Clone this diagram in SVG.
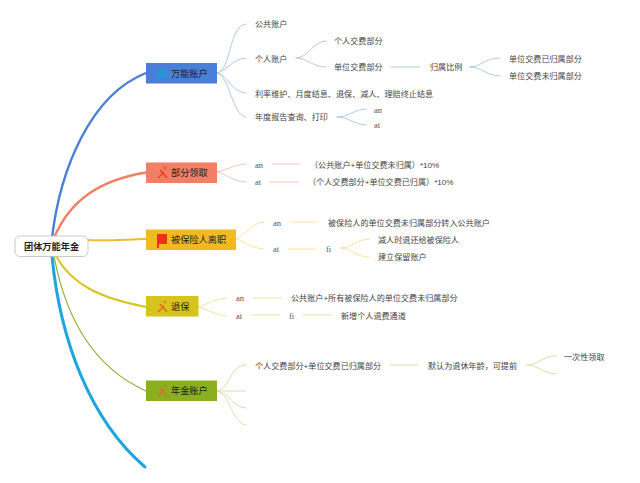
<svg xmlns="http://www.w3.org/2000/svg" width="640" height="483" viewBox="0 0 640 483">
<style>
text{font-family:"Liberation Sans","Noto Sans CJK SC",sans-serif;fill:#444;font-size:8.100px;dominant-baseline:central}
.l{font-family:"Liberation Serif","Noto Sans CJK SC",serif;font-size:8.500px;fill:#555}
.n{font-size:9.200px;fill:#222}
.r{font-size:9.200px;font-weight:bold;fill:#222}
#connectors path{fill:none;stroke-linecap:round}
.b{stroke:#a9c2ec;stroke-width:.9}
.o{stroke:#f6bfb0;stroke-width:.9}
.y{stroke:#f8dc94;stroke-width:.9}
.k{stroke:#e9e398;stroke-width:.9}
.g{stroke:#d2dc9c;stroke-width:.9}
.ic{fill:none;stroke:#e8402a;stroke-width:1.500}
</style>
<rect width="640" height="483" fill="#fff"/>
<g id="connectors">
<path d="M52 238C60 170 90 95 146 73" stroke="#4a7fd6" stroke-width="2.400"/>
<path d="M54 238C70 200 100 180 146 172.500" stroke="#ef8162" stroke-width="2.400"/>
<path d="M86 240C105 241 125 240 146 239" stroke="#f3bb2b" stroke-width="2"/>
<path d="M56 256C72 285 100 298 146 307" stroke="#d8c51f" stroke-width="2"/>
<path d="M54 256C66 320 95 368 146 391" stroke="#8fac2c" stroke-width="1.200"/>
<path d="M52 256C60 340 90 420 145 467" stroke="#1ea4de" stroke-width="3"/>
<path class="b" d="M217 73C232 70 228 26 246 24"/>
<path class="b" d="M217 73C228 70 232 59 246 58"/>
<path class="b" d="M217 73C230 76 230 92 246 93"/>
<path class="b" d="M217 73C230 76 232 116 246 117"/>
<path class="b" d="M296 58C308 58 312 42 326 41"/>
<path class="b" d="M296 58C308 58 312 67 326 67"/>
<path class="b" d="M391 67H420"/>
<path class="b" d="M470 67C482 67 484 58 500 58"/>
<path class="b" d="M470 67C482 67 484 75 500 76"/>
<path class="b" d="M337 117C349 117 352 110 366 109"/>
<path class="b" d="M337 117C349 117 352 124 366 125"/>
<path class="o" d="M217 172C228 170 232 165 246 164"/>
<path class="o" d="M217 172C228 175 232 181 246 182"/>
<path class="o" d="M272 164H300"/>
<path class="o" d="M270 182H298"/>
<path class="y" d="M236 239C246 236 250 223 264 222"/>
<path class="y" d="M236 239C246 242 250 248 264 249"/>
<path class="y" d="M290 222H318"/>
<path class="y" d="M288 249H316"/>
<path class="y" d="M340 248C352 248 355 240 369 239"/>
<path class="y" d="M340 248C352 248 355 257 369 257"/>
<path class="k" d="M198 307C208 304 214 299 227 298"/>
<path class="k" d="M198 307C208 309 214 315 227 316"/>
<path class="k" d="M253 298H282"/>
<path class="k" d="M251 315H280"/>
<path class="k" d="M303 315H332"/>
<path class="g" d="M217 391C232 388 228 366 246 365"/>
<path class="g" d="M217 391H246"/>
<path class="g" d="M217 391C230 393 232 407 246 408"/>
<path class="g" d="M217 391C230 393 232 424 246 425"/>
<path class="g" d="M390 365H418"/>
<path class="g" d="M527 365C539 365 541 356 556 356"/>
<path class="g" d="M527 365C539 365 541 373 556 374"/>
</g>
<g id="root"><rect x="15" y="236" width="73" height="20.500" rx="5" fill="#fff" stroke="#bbb" stroke-width=".8"/><text class="r" x="24" y="246.500">团体万能年金</text></g>
<g id="node-wanneng"><rect x="146" y="63" width="71" height="20.500" fill="#4a7fd9"/><path d="M157 78V72L162 68L167 72V78Z" fill="#2a93d8"/><text class="n" x="171" y="74">万能账户</text></g>
<g id="node-bufen"><rect x="146" y="162.500" width="71" height="20.500" fill="#f27f63"/><path class="ic" d="M158 178L164 172M160 170L167 178M164 167L166 169"/><text class="n" x="171" y="173">部分领取</text></g>
<g id="node-lizhi"><rect x="146" y="229.500" width="90" height="20.500" fill="#f3b923"/><path d="M157 234H167V244H159V248H157Z" fill="#ea3318"/><text class="n" x="171" y="240">被保险人离职</text></g>
<g id="node-tuibao"><rect x="146" y="296" width="52.500" height="20.500" fill="#d6c31c"/><path class="ic" style="stroke:#e06a22" d="M158 312L164 306M160 304L167 312M164 301L166 303"/><text class="n" x="171" y="307">退保</text></g>
<g id="node-nianjin"><rect x="146" y="380.500" width="71" height="20.500" fill="#8bb01f"/><path class="ic" style="stroke:#d9702a" d="M158 396L164 390M160 388L167 396M164 385L166 387"/><text class="n" x="171" y="391">年金账户</text></g>
<g id="labels">
<text x="255" y="24">公共账户</text>
<text x="255" y="59">个人账户</text>
<text x="334" y="41">个人交费部分</text>
<text x="334" y="67">单位交费部分</text>
<text x="430" y="67">归属比例</text>
<text x="509" y="59">单位交费已归属部分</text>
<text x="509" y="76">单位交费未归属部分</text>
<text x="255" y="94">利率维护、月度结息、退保、减人、理赔终止结息</text>
<text x="255" y="117">年度报告查询、打印</text>
<text class="l" x="374" y="110">an</text>
<text class="l" x="374" y="125">at</text>
<text class="l" x="255" y="165">an</text>
<text class="l" x="255" y="182">at</text>
<text x="310" y="165">（公共账户+单位交费未归属）*10%</text>
<text x="308" y="182">（个人交费部分+单位交费已归属）*10%</text>
<text class="l" x="273" y="223">an</text>
<text x="328" y="223">被保险人的单位交费未归属部分转入公共账户</text>
<text class="l" x="273" y="249">at</text>
<text class="l" x="326" y="249">fi</text>
<text x="378" y="240">减人时退还给被保险人</text>
<text x="378" y="257">建立保留账户</text>
<text class="l" x="236" y="298">an</text>
<text x="291" y="298">公共账户+所有被保险人的单位交费未归属部分</text>
<text class="l" x="236" y="316">at</text>
<text class="l" x="289" y="316">fi</text>
<text x="341" y="316">新增个人退费通道</text>
<text x="255" y="366">个人交费部分+单位交费已归属部分</text>
<text x="428" y="366">默认为退休年龄，可提前</text>
<text x="564" y="357">一次性领取</text>
</g>
</svg>
